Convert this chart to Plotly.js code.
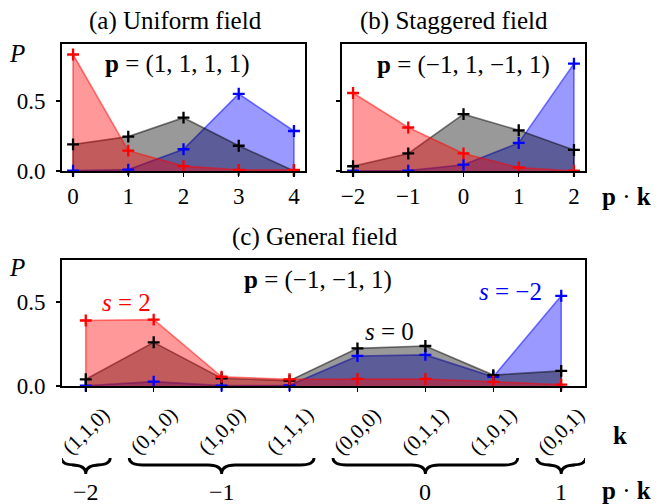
<!DOCTYPE html>
<html><head><meta charset="utf-8">
<script src="https://cdn.plot.ly/plotly-3.0.1.min.js"></script>
<style>html,body{margin:0;padding:0;background:#fff}#chart{width:657px;height:504px}</style>
</head><body><div id="chart"></div>
<script>
// ---- data: panel (a) uniform field ----
const pkA = [0, 1, 2, 3, 4];
const tickA = ["0", "1", "2", "3", "4"];
const aRed   = [0.83, 0.145, 0.035, 0.008, 0.008];
const aBlack = [0.19, 0.245, 0.38, 0.18, 0.004];
const aBlue  = [0.003, 0.01, 0.155, 0.55, 0.285];
// ---- data: panel (b) staggered field ----
const pkB = [-2, -1, 0, 1, 2];
const tickB = ["\u22122", "\u22121", "0", "1", "2"];
const bRed   = [0.556, 0.31, 0.125, 0.025, 0.003];
const bBlack = [0.034, 0.125, 0.405, 0.29, 0.15];
const bBlue  = [0.002, 0.003, 0.045, 0.2, 0.765];
// ---- data: panel (c) general field ----
const kLabels = ["(1,1,0)", "(0,1,0)", "(1,0,0)", "(1,1,1)", "(0,0,0)", "(0,1,1)", "(1,0,1)", "(0,0,1)"];
const pkC = [-2, -1, -1, -1, 0, 0, 0, 1];
const cRed   = [0.39, 0.395, 0.055, 0.04, 0.042, 0.042, 0.025, 0.008];
const cBlack = [0.04, 0.26, 0.046, 0.032, 0.224, 0.238, 0.065, 0.09];
const cBlue  = [0.002, 0.026, 0.002, 0.004, 0.179, 0.185, 0.055, 0.537];
const yTicks = [0, 0.5];
const yTickText = ["0.0", "0.5"];

const W = 657, H = 504;
const FONT = "'Liberation Serif', 'DejaVu Serif', serif";
const RED = [255, 0, 0], BLACK = [0, 0, 0], BLUE = [0, 0, 255];
function rgba(c, a) { return `rgba(${c[0]},${c[1]},${c[2]},${a})`; }
// area polygon between the curve and zero (like fill_between), edge included
function area(x, y, c, xa, ya) {
  const xs = [x[0]].concat(x, [x[x.length - 1]]);
  const ys = [0].concat(y, [0]);
  return {
    type: 'scatter', x: xs, y: ys, xaxis: xa, yaxis: ya, mode: 'lines',
    fill: 'toself', fillcolor: rgba(c, 0.4),
    line: { color: rgba(c, 0.5), width: 1.6 },
    cliponaxis: false, hoverinfo: 'skip', showlegend: false
  };
}
function marks(x, y, c, xa, ya) {
  return {
    type: 'scatter', x: x, y: y, xaxis: xa, yaxis: ya, mode: 'markers',
    marker: { symbol: 'cross-thin', size: 8.5, color: rgba(c, 1), line: { color: rgba(c, 1), width: 2.3 } },
    cliponaxis: false, hoverinfo: 'skip', showlegend: false
  };
}
const kIdx = kLabels.map((_, i) => i);

const panels = [
  { x: pkA, s: [aBlue, aBlack, aRed], xa: 'x', ya: 'y' },
  { x: pkB, s: [bBlue, bBlack, bRed], xa: 'x2', ya: 'y2' },
  { x: kIdx, s: [cBlue, cBlack, cRed], xa: 'x3', ya: 'y3' }
];
const cols = [BLUE, BLACK, RED];
const data = [];
panels.forEach(p => p.s.forEach((y, i) => data.push(area(p.x, y, cols[i], p.xa, p.ya))));
panels.forEach(p => p.s.forEach((y, i) => data.push(marks(p.x, y, cols[i], p.xa, p.ya))));

function px(x) { return x / W; }
function py(y) { return 1 - y / H; }
const axBase = {
  showline: true, linecolor: 'black', linewidth: 1.8, mirror: true,
  ticks: 'outside', ticklen: 4, tickwidth: 1.5, tickcolor: 'black',
  showgrid: false, zeroline: false, fixedrange: true,
  tickfont: { family: FONT, size: 23, color: 'black' }
};
function ax(o) { return Object.assign({}, axBase, o); }

// braces under groups of equal p.k
const groups = [];
pkC.forEach((v, i) => {
  const g = groups[groups.length - 1];
  if (g && g.pk === v) g.end = i; else groups.push({ pk: v, start: i, end: i });
});
const shapes = [];
const annotations = [];
const yTop = py(458), yBar = py(465), yTip = py(474);
groups.forEach(g => {
  const x0 = g.start - 0.36, x1 = g.end + 0.36, xm = (g.start + g.end) / 2, d = 0.2;
  const path = `M ${x0},${yTop} Q ${x0},${yBar} ${x0 + d},${yBar} L ${xm - d},${yBar} Q ${xm},${yBar} ${xm},${yTip} ` +
               `Q ${xm},${yBar} ${xm + d},${yBar} L ${x1 - d},${yBar} Q ${x1},${yBar} ${x1},${yTop}`;
  shapes.push({ type: 'path', xref: 'x3', yref: 'paper', path: path, line: { color: 'black', width: 2.8 } });
  annotations.push({ xref: 'x3', yref: 'paper', x: xm, y: py(492), text: String(g.pk).replace('-', '\u2212'),
    showarrow: false, font: { family: FONT, size: 24, color: 'black' }, xanchor: 'center', yanchor: 'middle' });
});
kLabels.forEach((t, i) => {
  annotations.push({ xref: 'x3', yref: 'paper', x: i, y: py(431), text: t, textangle: -45,
    showarrow: false, font: { family: FONT, size: 21, color: 'black' }, xanchor: 'center', yanchor: 'middle' });
});
function ann(text, x, y, size, color) {
  annotations.push({ xref: 'paper', yref: 'paper', x: px(x), y: py(y), text: text, showarrow: false,
    xanchor: 'center', yanchor: 'middle', font: { family: FONT, size: size || 23, color: color || 'black' } });
}
ann('(a) Uniform field', 175, 21, 25);
ann('(b) Staggered field', 454, 21, 25);
ann('(c) General field', 315, 237, 25);
ann('<i>P</i>', 17, 54, 25);
ann('<i>P</i>', 17, 267, 25);
ann('<b>p</b> = (1, 1, 1, 1)', 177, 64, 25);
ann('<b>p</b> = (\u22121, 1, \u22121, 1)', 463, 65, 25);
ann('<b>p</b> = (\u22121, \u22121, 1)', 318, 280, 25);
ann('<i>s</i> = 2', 126, 302, 25, 'red');
ann('<i>s</i> = 0', 389, 331, 25, 'black');
ann('<i>s</i> = \u22122', 510, 291, 25, 'blue');
ann('<b>p</b> \u00b7 <b>k</b>', 626, 197, 25);
ann('<b>k</b>', 620, 435, 25);
ann('<b>p</b> \u00b7 <b>k</b>', 626, 490, 25);

const layout = {
  width: W, height: H, margin: { l: 0, r: 0, t: 0, b: 0 },
  paper_bgcolor: 'white', plot_bgcolor: 'white', showlegend: false,
  font: { family: FONT, size: 23, color: 'black' },
  xaxis: ax({ domain: [px(62), px(305)], anchor: 'y', range: [-0.2, 4.2], tickvals: pkA, ticktext: tickA }),
  yaxis: ax({ domain: [py(171), py(44)], anchor: 'x', range: [0, 0.905], tickvals: yTicks, ticktext: yTickText, ticklabelstandoff: 6 }),
  xaxis2: ax({ domain: [px(342), px(585)], anchor: 'y2', range: [-2.2, 2.2], tickvals: pkB, ticktext: tickB }),
  yaxis2: ax({ domain: [py(171), py(44)], anchor: 'x2', range: [0, 0.905], tickvals: yTicks, showticklabels: false }),
  xaxis3: ax({ domain: [px(62), px(585)], anchor: 'y3', range: [-0.35, 7.35], tickvals: kIdx, showticklabels: false }),
  yaxis3: ax({ domain: [py(386), py(260)], anchor: 'x3', range: [0, 0.75], tickvals: yTicks, ticktext: yTickText, ticklabelstandoff: 6 }),
  shapes: shapes, annotations: annotations
};
Plotly.newPlot('chart', data, layout, { displayModeBar: false, staticPlot: true });
</script></body></html>
